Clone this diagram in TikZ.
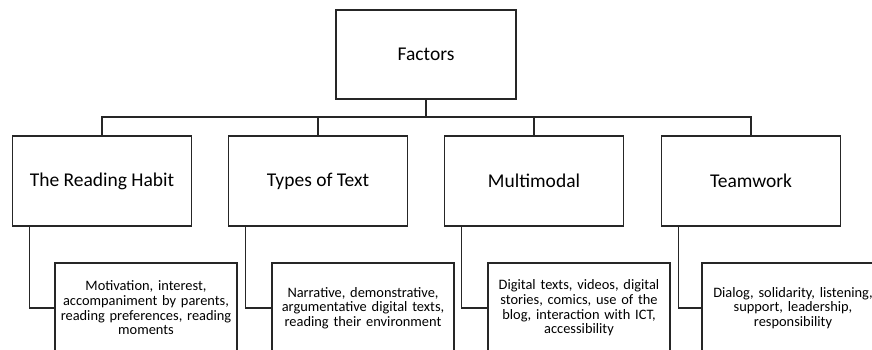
\documentclass[tikz,border=0pt]{standalone}
\usepackage{fontspec}
\setmainfont{Carlito}
\usetikzlibrary{positioning}
\tikzset{
  box/.style    = {draw=black!85, line width=1.1pt, align=center, inner sep=3pt},
  factor/.style = {box, minimum width=179pt, minimum height=90pt,
                   font=\fontsize{19.5}{22}\selectfont},
  detail/.style = {box, minimum width=180pt, minimum height=90pt, text width=176pt,
                   font=\fontsize{14.4}{14.7}\selectfont},
  link/.style   = {draw=black!85, line width=1.1pt}
}

\begin{document}
\begin{tikzpicture}[x=1pt, y=-1pt]
\useasboundingbox (0,0) rectangle (872,349);
\clip (0,0) rectangle (872,349);

% root
\node[factor, minimum width=180pt, minimum height=89pt] at (426,54.5) (factors) {Factors};

% second level
\node[factor] at (102,181) (habit) {The Reading Habit};
\node[factor] at (318,181) (types) {Types of Text};
\node[factor] at (534,181) (multi) {Multimodal};
\node[factor] at (751,181) (team)  {Teamwork};

% descriptions (run past the lower edge)
\node[detail] at (146,308) (habitd) {Motivation, interest,\\accompaniment by parents,\\reading preferences, reading\\moments};
\node[detail] at (363,308) (typesd) {Narrative, demonstrative,\\argumentative digital texts,\\reading their environment};
\node[detail] at (579,308) (multid) {Digital texts, videos, digital\\stories, comics, use of the\\blog, interaction with ICT,\\accessibility};
\node[detail] at (793,308) (teamd)  {Dialog, solidarity, listening,\\support, leadership,\\responsibility};

% tree lines
\coordinate (bus) at (426,117);
\draw[link, line width=2pt] (factors.south) -- (factors.south |- bus);
\draw[link] (habit.north) -- (habit.north |- bus) -- (team.north |- bus) -- (team.north);
\draw[link] (types.north) -- (types.north |- bus);
\draw[link] (multi.north) -- (multi.north |- bus);

% elbows down to the descriptions
\foreach \n in {habit, types, multi, team} {
  \draw[link] ([xshift=17.5pt]\n.south west) |- (\n d.west);
}
\end{tikzpicture}
\end{document}
